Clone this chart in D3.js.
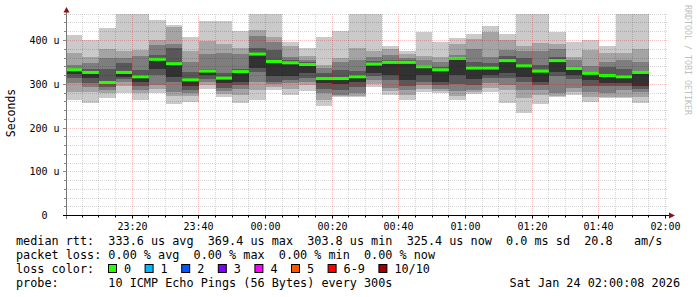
<!DOCTYPE html>
<html>
<head>
<meta charset="utf-8">
<script src="https://cdn.jsdelivr.net/npm/d3@7"></script>
<style>
body { margin: 0; background: #fff; }
svg { display: block; }
text { font-family: "DejaVu Sans Mono", monospace; white-space: pre; }
</style>
</head>
<body>
<div id="chart"></div>
<script>
const WIDTH = 697;
const HEIGHT = 297;
const PLOT = { left: 66, right: 666, top: 14.25, bottom: 215.5 };
const CHAR_W = 7.1;

// time window of the graph
const START = '23:00:08';
const END = '02:00:08';

// 5 minute slots: end time of each slot
const slotEnds = [
    '23:05', '23:10', '23:15', '23:20', '23:25', '23:30', '23:35', '23:40', '23:45', '23:50', '23:55', '00:00',
    '00:05', '00:10', '00:15', '00:20', '00:25', '00:30', '00:35', '00:40', '00:45', '00:50', '00:55', '01:00',
    '01:05', '01:10', '01:15', '01:20', '01:25', '01:30', '01:35', '01:40', '01:45', '01:50', '01:55',
];

// 10 sorted pings per slot (us)
const pings = [
    [264, 283, 302, 314, 323, 333, 336, 344, 371, 413],
    [258, 283, 293, 304, 314, 327, 334, 348, 363, 401],
    [268, 279, 287, 293, 301, 304, 336, 359, 381, 428],
    [281, 295, 306, 311, 317, 327, 348, 361, 377, 470],
    [264, 280, 288, 295, 306, 317, 333, 365, 378, 470],
    [279, 290, 298, 322, 335, 357, 367, 390, 401, 447],
    [256, 273, 283, 305, 317, 347, 382, 393, 430, 435],
    [260, 273, 281, 287, 297, 310, 329, 352, 377, 409],
    [290, 298, 306, 313, 320, 330, 336, 369, 400, 444],
    [272, 278, 284, 292, 302, 314, 325, 371, 393, 444],
    [257, 275, 290, 298, 306, 329, 334, 370, 382, 422],
    [264, 287, 306, 327, 337, 369, 382, 410, 424, 470],
    [288, 293, 300, 306, 318, 352, 378, 396, 409, 470],
    [275, 290, 302, 310, 318, 349, 355, 363, 388, 397],
    [285, 298, 306, 315, 325, 345, 350, 355, 365, 384],
    [251, 265, 279, 290, 302, 313, 325, 337, 344, 407],
    [270, 273, 276, 287, 301, 313, 333, 350, 360, 421],
    [272, 274, 280, 293, 305, 317, 330, 355, 384, 470],
    [293, 301, 310, 318, 326, 346, 353, 363, 377, 470],
    [275, 284, 292, 310, 320, 350, 355, 368, 380, 388],
    [264, 275, 287, 297, 310, 350, 355, 361, 370, 377],
    [283, 290, 298, 305, 321, 340, 345, 355, 365, 420],
    [280, 284, 290, 298, 306, 333, 340, 351, 363, 396],
    [264, 274, 284, 300, 321, 359, 362, 367, 392, 405],
    [278, 282, 287, 298, 313, 337, 352, 380, 403, 415],
    [283, 291, 304, 314, 321, 337, 348, 363, 420, 432],
    [258, 287, 298, 314, 325, 354, 365, 378, 401, 415],
    [235, 268, 287, 305, 317, 342, 359, 375, 387, 470],
    [256, 275, 287, 298, 306, 330, 344, 375, 394, 470],
    [270, 273, 279, 318, 329, 354, 363, 380, 391, 420],
    [275, 283, 291, 313, 321, 336, 340, 355, 363, 397],
    [260, 270, 283, 296, 310, 325, 329, 342, 378, 401],
    [268, 272, 281, 296, 304, 320, 339, 352, 372, 387],
    [268, 272, 287, 296, 304, 317, 334, 355, 371, 470],
    [258, 272, 283, 289, 295, 327, 329, 352, 380, 470],
];

// median rtt per slot (us)
const medians = [
    333, 327, 304, 327, 317, 357, 347, 310, 330, 314, 329, 369,
    352, 349, 345, 313, 313, 317, 346, 350, 350, 340, 333, 359,
    337, 337, 354, 342, 330, 354, 336, 325, 320, 317, 327,
];

const smokeColors = ['#cacaca', '#a4a4a4', '#7e7e7e', '#585858', '#323232'];

const yTicks = [0, 100, 200, 300, 400];
const yTickLabels = ['0\u00a0\u00a0', '100 u', '200 u', '300 u', '400 u'];
const yMinorStep = 20;
const yMax = 460;

const xTicks = ['23:20', '23:40', '00:00', '00:20', '00:40', '01:00', '01:20', '01:40', '02:00'];

const lossLabels = ['0', '1', '2', '3', '4', '5', '6-9', '10/10'];
const lossColors = ['#26ff00', '#00b8ff', '#0059ff', '#7e00ff', '#ff00ff', '#ff5500', '#ff0000', '#a10000'];

const legendLines = [
    'median rtt:  333.6 us avg  369.4 us max  303.8 us min  325.4 us now  0.0 ms sd  20.8   am/s',
    'packet loss: 0.00 % avg  0.00 % max  0.00 % min  0.00 % now',
    'loss color:',
    'probe:       10 ICMP Echo Pings (56 Bytes) every 300s',
];
const stamp = 'Sat Jan 24 02:00:08 2026';

function parseTime(s) {
    const p = s.split(':').map(Number);
    const day = p[0] >= 12 ? 23 : 24;
    return new Date(2026, 0, day, p[0], p[1], p[2] || 0);
}

const svg = d3.select('#chart').append('svg')
    .attr('width', WIDTH)
    .attr('height', HEIGHT);

svg.append('rect').attr('width', WIDTH).attr('height', HEIGHT).attr('fill', '#fff');

const x = d3.scaleTime()
    .domain([parseTime(START), parseTime(END)])
    .range([PLOT.left, PLOT.right]);
const y = d3.scaleLinear()
    .domain([0, 400])
    .range([PLOT.bottom, 40.5]);

const defs = svg.append('defs');
defs.append('clipPath').attr('id', 'plot-clip')
    .append('rect')
    .attr('x', PLOT.left + 1)
    .attr('y', Math.round(y(yMax)))
    .attr('width', PLOT.right - PLOT.left - 1)
    .attr('height', PLOT.bottom - Math.round(y(yMax)));

// smoke + median
const plot = svg.append('g').attr('clip-path', 'url(#plot-clip)');
const slotMs = 5 * 60 * 1000;

pings.forEach((p, i) => {
    const tEnd = parseTime(slotEnds[i]);
    const x0 = Math.round(x(new Date(tEnd - slotMs)));
    const x1 = Math.round(x(tEnd));
    smokeColors.forEach((c, k) => {
        const top = Math.round(y(p[9 - k]));
        const bot = Math.round(y(p[k]));
        plot.append('rect')
            .attr('x', x0).attr('width', x1 - x0)
            .attr('y', top).attr('height', bot - top)
            .attr('fill', c);
    });
    plot.append('rect')
        .attr('x', x0).attr('width', x1 - x0)
        .attr('y', y(medians[i]) - 1.5).attr('height', 3)
        .attr('fill', lossColors[0]);
});

// grid on top
const grid = svg.append('g');
const MINOR = 'rgba(0,0,0,0.16)';
const MAJOR = 'rgba(210,0,0,0.24)';
d3.range(yMinorStep, yMax + 1, yMinorStep).forEach(v => {
    const major = v % 100 === 0;
    const yy = Math.floor(y(v)) + 0.5;
    grid.append('line')
        .attr('x1', PLOT.left).attr('x2', PLOT.right + 1)
        .attr('y1', yy).attr('y2', yy)
        .attr('stroke', major ? MAJOR : MINOR)
        .attr('stroke-dasharray', '1,1');
    grid.append('line')
        .attr('x1', PLOT.left - (major ? 3 : 2)).attr('x2', PLOT.left)
        .attr('y1', yy).attr('y2', yy)
        .attr('stroke', '#888');
});

const gridTimes = d3.timeMinute.every(5).range(parseTime(START), parseTime(END));
gridTimes.forEach(t => {
    const major = t.getMinutes() % 20 === 0;
    const xx = Math.floor(x(t)) + 0.5;
    grid.append('line')
        .attr('x1', xx).attr('x2', xx)
        .attr('y1', Math.round(y(yMax))).attr('y2', PLOT.bottom)
        .attr('stroke', major ? MAJOR : MINOR)
        .attr('stroke-dasharray', '1,1');
    grid.append('line')
        .attr('x1', xx).attr('x2', xx)
        .attr('y1', PLOT.bottom).attr('y2', PLOT.bottom + (major ? 3 : 2))
        .attr('stroke', '#000');
});

// axes
svg.append('line')
    .attr('x1', PLOT.left + 0.5).attr('x2', PLOT.left + 0.5)
    .attr('y1', 219).attr('y2', 10)
    .attr('stroke', '#777');
svg.append('line')
    .attr('x1', 63).attr('x2', 670)
    .attr('y1', PLOT.bottom).attr('y2', PLOT.bottom)
    .attr('stroke', '#000');
svg.append('path')
    .attr('d', 'M63.5,12.5 L69.5,12.5 L66.5,7 Z')
    .attr('fill', '#8f1010');
svg.append('path')
    .attr('d', 'M669,212.5 L669,218.5 L675,215.5 Z')
    .attr('fill', '#8f1010');

// tick labels
svg.append('g').selectAll('text')
    .data(yTicks)
    .join('text')
    .attr('x', 59.5)
    .attr('y', d => y(d))
    .attr('dy', '0.35em')
    .attr('text-anchor', 'end')
    .style('font-size', '10px')
    .attr('fill', '#000')
    .text((d, i) => yTickLabels[i]);

svg.append('g').selectAll('text')
    .data(xTicks)
    .join('text')
    .attr('x', d => Math.floor(x(parseTime(d))) + 0.5)
    .attr('y', 229.5)
    .attr('text-anchor', 'middle')
    .style('font-size', '10px')
    .attr('fill', '#000')
    .text(d => d);

svg.append('text')
    .attr('transform', 'translate(15,113) rotate(-90)')
    .attr('text-anchor', 'middle')
    .style('font-size', '11.5px')
    .attr('fill', '#000')
    .text('Seconds');

svg.append('text')
    .attr('transform', 'translate(684.5,5) rotate(90)')
    .style('font-size', '8.3px')
    .attr('fill', '#c0c0c0')
    .text('RRDTOOL / TOBI OETIKER');

// legend
const legend = svg.append('g').style('font-size', '11.8px').attr('fill', '#000');
legendLines.forEach((line, i) => {
    legend.append('text')
        .attr('x', 16)
        .attr('y', 245 + i * 14)
        .text(line);
});
legend.append('text')
    .attr('x', 680)
    .attr('y', 245 + 3 * 14)
    .attr('text-anchor', 'end')
    .text(stamp);

let cursor = 108.5;
lossLabels.forEach((lbl, i) => {
    legend.append('rect')
        .attr('x', cursor).attr('y', 264.5)
        .attr('width', 8).attr('height', 8)
        .attr('fill', lossColors[i])
        .attr('stroke', '#000');
    legend.append('text')
        .attr('x', cursor + 15.5)
        .attr('y', 273)
        .text(lbl);
    cursor += 15.5 + lbl.length * CHAR_W + 14;
});
</script>
</body>
</html>
